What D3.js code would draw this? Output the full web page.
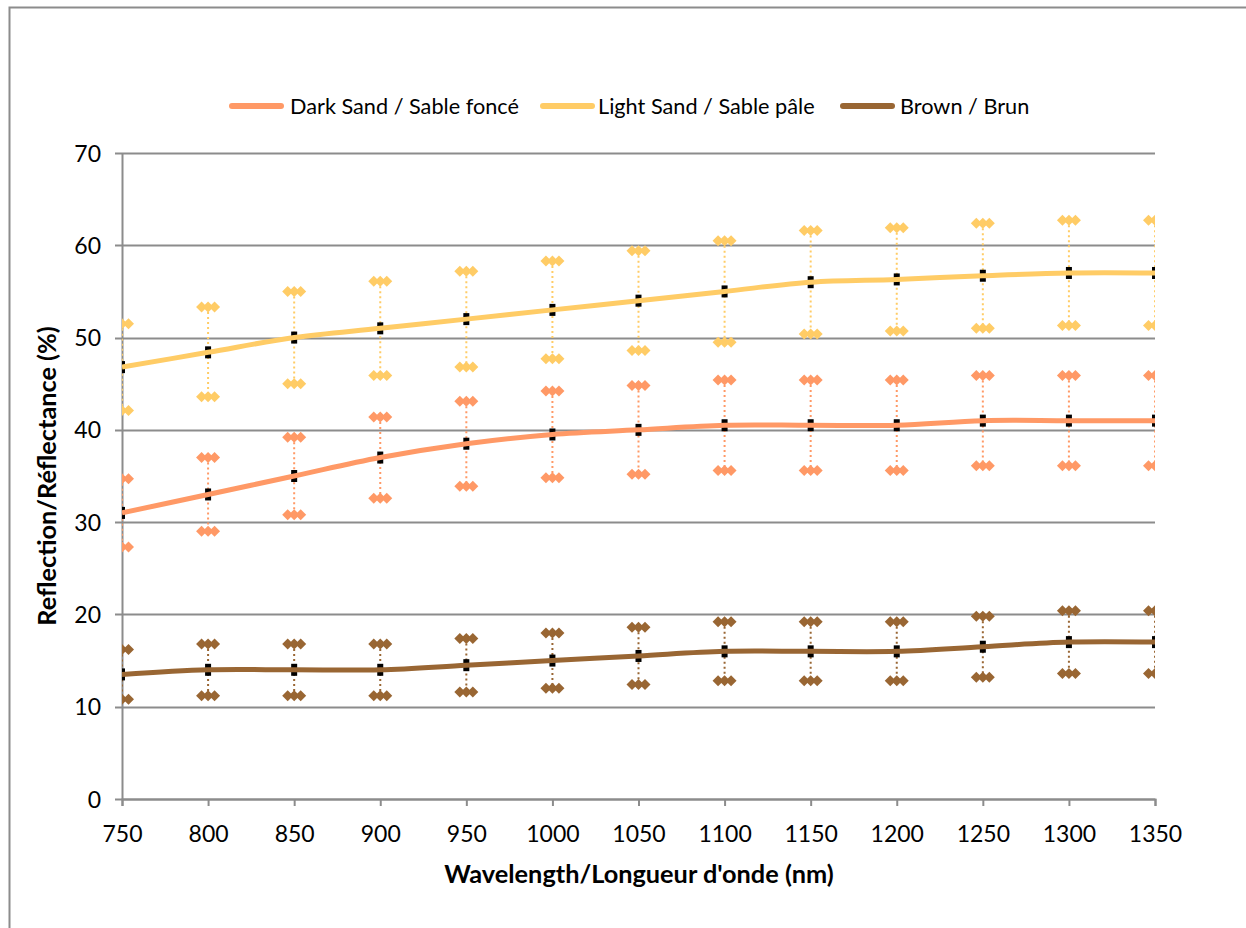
<!DOCTYPE html>
<html>
<head>
<meta charset="utf-8">
<script src="https://cdn.jsdelivr.net/npm/d3@7"></script>
<style>
  html, body { margin: 0; padding: 0; background: #fff; }
  svg text { font-family: Lato, sans-serif; fill: #000; }
</style>
</head>
<body>
<div id="chart"></div>
<script>
// wavelengths (nm)
const wavelengths = [750, 800, 850, 900, 950, 1000, 1050, 1100, 1150, 1200, 1250, 1300, 1350];

// reflectance values (%)
const darkSand = [31, 33, 35, 37, 38.5, 39.5, 40, 40.5, 40.5, 40.5, 41, 41, 41];
const darkSandHigh = [34.7, 37, 39.2, 41.4, 43.1, 44.2, 44.8, 45.4, 45.4, 45.4, 45.9, 45.9, 45.9];
const darkSandLow = [27.3, 29, 30.8, 32.6, 33.9, 34.8, 35.2, 35.6, 35.6, 35.6, 36.1, 36.1, 36.1];

const lightSand = [46.8, 48.4, 50, 51, 52, 53, 54, 55, 56, 56.3, 56.7, 57, 57];
const lightSandHigh = [51.5, 53.3, 55, 56.1, 57.2, 58.3, 59.4, 60.5, 61.6, 61.9, 62.4, 62.7, 62.7];
const lightSandLow = [42.1, 43.6, 45, 45.9, 46.8, 47.7, 48.6, 49.5, 50.4, 50.7, 51, 51.3, 51.3];

const brown = [13.5, 14, 14, 14, 14.5, 15, 15.5, 16, 16, 16, 16.5, 17, 17];
const brownHigh = [16.2, 16.8, 16.8, 16.8, 17.4, 18, 18.6, 19.2, 19.2, 19.2, 19.8, 20.4, 20.4];
const brownLow = [10.8, 11.2, 11.2, 11.2, 11.6, 12, 12.4, 12.8, 12.8, 12.8, 13.2, 13.6, 13.6];

const yTicks = [0, 10, 20, 30, 40, 50, 60, 70];
const xTicks = [750, 800, 850, 900, 950, 1000, 1050, 1100, 1150, 1200, 1250, 1300, 1350];

const series = [
  {name: 'Dark Sand / Sable foncé', color: '#ff9966', values: darkSand, high: darkSandHigh, low: darkSandLow},
  {name: 'Light Sand / Sable pâle', color: '#ffcc66', values: lightSand, high: lightSandHigh, low: lightSandLow},
  {name: 'Brown / Brun', color: '#996633', values: brown, high: brownHigh, low: brownLow}
];

const width = 1246, height = 928;
const plot = {left: 122, right: 1155, top: 153, bottom: 799};

const svg = d3.select('#chart').append('svg')
  .attr('width', width)
  .attr('height', height);

// outer chart border
svg.append('rect')
  .attr('x', 9.5).attr('y', 7.5)
  .attr('width', 1260).attr('height', 960)
  .attr('fill', 'none')
  .attr('stroke', '#8c8c8c')
  .attr('stroke-width', 2);

const x = d3.scaleLinear().domain([750, 1350]).range([plot.left, plot.right]);
const y = d3.scaleLinear().domain([0, 70]).range([plot.bottom, plot.top]);

// gridlines
svg.append('g')
  .selectAll('line')
  .data(yTicks)
  .enter().append('line')
  .attr('x1', plot.left - 7)
  .attr('x2', plot.right)
  .attr('y1', d => Math.round(y(d)) + 0.5)
  .attr('y2', d => Math.round(y(d)) + 0.5)
  .attr('stroke', '#8c8c8c')
  .attr('stroke-width', 2);

// y axis
const yAxis = svg.append('g')
  .attr('transform', `translate(${plot.left},0)`)
  .call(d3.axisLeft(y).tickValues(yTicks).tickSize(0).tickPadding(21));
yAxis.select('.domain').attr('stroke', '#8c8c8c').attr('stroke-width', 2);
yAxis.selectAll('text').style('font-size', '23px').attr('dy', '0.35em');

// x axis
const xAxis = svg.append('g')
  .attr('transform', `translate(0,${plot.bottom})`)
  .call(d3.axisBottom(x).tickValues(xTicks).tickSize(7).tickPadding(20).tickFormat(d3.format('d')));
xAxis.select('.domain').attr('stroke', '#8c8c8c').attr('stroke-width', 2);
xAxis.selectAll('line').attr('stroke', '#8c8c8c').attr('stroke-width', 2);
xAxis.selectAll('text').style('font-size', '23px');

// axis titles
svg.append('text')
  .attr('x', 639)
  .attr('y', 883)
  .attr('text-anchor', 'middle')
  .style('font-size', '25.3px')
  .style('font-weight', 'bold')
  .text("Wavelength/Longueur d'onde (nm)");

svg.append('text')
  .attr('transform', `translate(56,${(plot.top + plot.bottom) / 2}) rotate(-90)`)
  .attr('text-anchor', 'middle')
  .style('font-size', '25.3px')
  .style('font-weight', 'bold')
  .text('Reflection/Réflectance (%)');

// clip to plot area
svg.append('clipPath').attr('id', 'plotClip')
  .append('rect')
  .attr('x', plot.left).attr('y', plot.top - 20)
  .attr('width', plot.right - plot.left).attr('height', plot.bottom - plot.top + 20);

const marks = svg.append('g').attr('clip-path', 'url(#plotClip)');

const diamond = 'M0,-5.5L5.5,0L0,5.5L-5.5,0Z';
const line = d3.line()
  .x((d, i) => x(wavelengths[i]))
  .y(d => y(d))
  .curve(d3.curveCatmullRom.alpha(0.5));

series.forEach(s => {
  const g = marks.append('g');
  // dotted error bars
  g.selectAll('.err')
    .data(wavelengths)
    .enter().append('line')
    .attr('class', 'err')
    .attr('x1', d => x(d)).attr('x2', d => x(d))
    .attr('y1', (d, i) => y(s.high[i]))
    .attr('y2', (d, i) => y(s.low[i]))
    .attr('stroke', s.color)
    .attr('stroke-width', 2)
    .attr('stroke-dasharray', '2,3');

  // diamond caps
  [s.high, s.low].forEach(ends => {
    wavelengths.forEach((w, i) => {
      [-6.5, 0, 6.5].forEach(off => {
        g.append('path')
          .attr('d', diamond)
          .attr('transform', `translate(${x(w) + off},${y(ends[i])})`)
          .attr('fill', s.color);
      });
    });
  });

  // black point markers
  g.selectAll('.pt')
    .data(s.values)
    .enter().append('rect')
    .attr('class', 'pt')
    .attr('x', (d, i) => x(wavelengths[i]) - 3)
    .attr('y', d => y(d) - 6)
    .attr('width', 6)
    .attr('height', 12)
    .attr('fill', '#000');
});

series.forEach(s => {
  marks.append('path')
    .datum(s.values)
    .attr('d', line)
    .attr('fill', 'none')
    .attr('stroke', s.color)
    .attr('stroke-width', 5)
    .attr('stroke-linecap', 'butt');
});

// legend
const legendItems = [
  {sx: 229, tx: 290},
  {sx: 540, tx: 598},
  {sx: 840, tx: 900}
];
series.forEach((s, i) => {
  const lg = svg.append('g');
  lg.append('line')
    .attr('x1', legendItems[i].sx + 3).attr('x2', legendItems[i].sx + 52)
    .attr('y1', 106).attr('y2', 106)
    .attr('stroke', s.color)
    .attr('stroke-width', 6)
    .attr('stroke-linecap', 'round');
  lg.append('text')
    .attr('x', legendItems[i].tx)
    .attr('y', 106)
    .attr('dy', '0.35em')
    .style('font-size', '21.7px')
    .text(s.name);
});
</script>
</body>
</html>
